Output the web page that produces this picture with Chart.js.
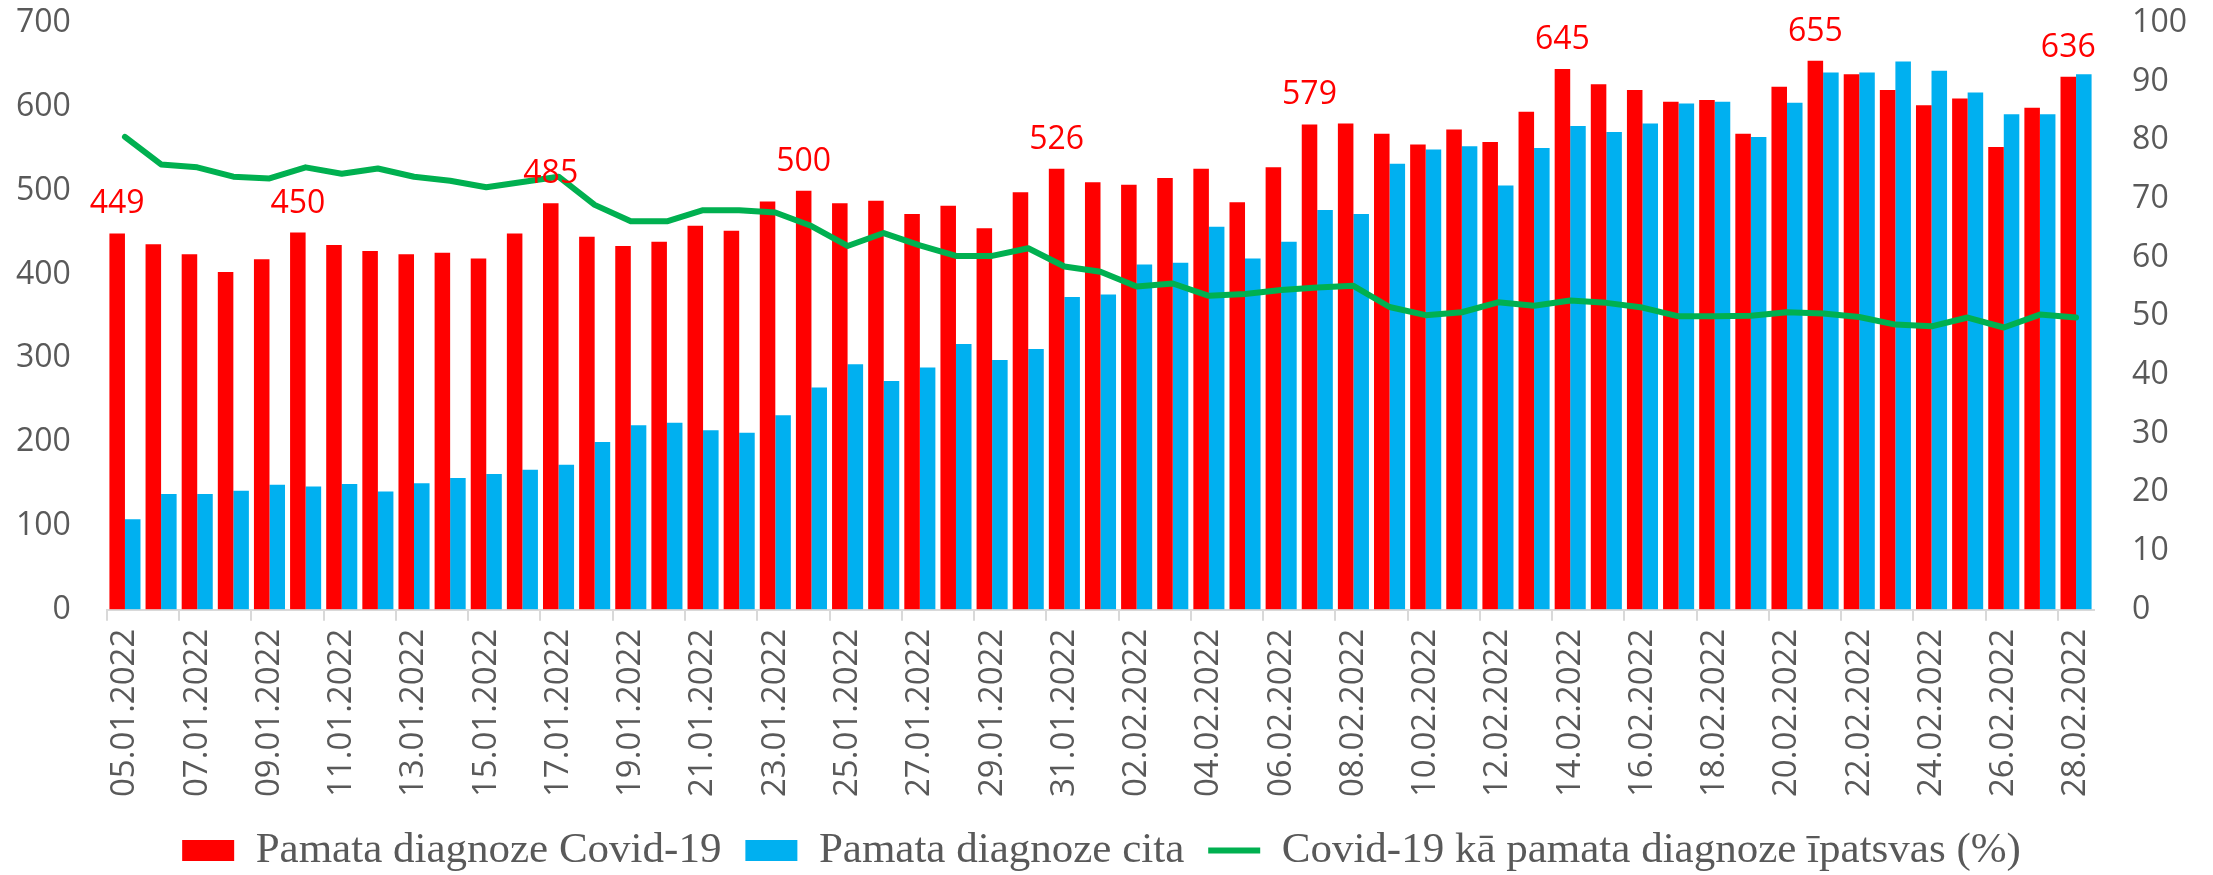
<!DOCTYPE html>
<html>
<head>
<meta charset="utf-8">
<script src="https://cdn.jsdelivr.net/npm/chart.js@4.4.1/dist/chart.umd.min.js"></script>
<style>
  html, body { margin: 0; padding: 0; background: #fff; }
  #wrap { width: 2213px; height: 875px; }
</style>
</head>
<body>
<div id="wrap"><canvas id="chart"></canvas></div>
<script>
const dates = [
  "05.01.2022", "06.01.2022", "07.01.2022", "08.01.2022", "09.01.2022", "10.01.2022", "11.01.2022",
  "12.01.2022", "13.01.2022", "14.01.2022", "15.01.2022", "16.01.2022", "17.01.2022", "18.01.2022",
  "19.01.2022", "20.01.2022", "21.01.2022", "22.01.2022", "23.01.2022", "24.01.2022", "25.01.2022",
  "26.01.2022", "27.01.2022", "28.01.2022", "29.01.2022", "30.01.2022", "31.01.2022",
  "01.02.2022", "02.02.2022", "03.02.2022", "04.02.2022", "05.02.2022", "06.02.2022", "07.02.2022",
  "08.02.2022", "09.02.2022", "10.02.2022", "11.02.2022", "12.02.2022", "13.02.2022", "14.02.2022",
  "15.02.2022", "16.02.2022", "17.02.2022", "18.02.2022", "19.02.2022", "20.02.2022", "21.02.2022",
  "22.02.2022", "23.02.2022", "24.02.2022", "25.02.2022", "26.02.2022", "27.02.2022", "28.02.2022"
];

// Pamata diagnoze Covid-19
const covidMain = [
  449, 436, 424, 403, 418, 450, 435, 428, 424, 426, 419, 449, 485, 445,
  434, 439, 458, 452, 487, 500, 485, 488, 472, 482, 455, 498, 526,
  510, 507, 515, 526, 486, 528, 579, 580, 568, 555, 573, 558, 594, 645,
  627, 620, 606, 608, 568, 624, 655, 639, 620, 602, 610, 552, 599, 636
];

// Pamata diagnoze cita
const otherMain = [
  108, 138, 138, 142, 149, 147, 150, 141, 151, 157, 162, 167, 173, 200,
  220, 223, 214, 211, 232, 265, 293, 273, 289, 317, 298, 311, 373,
  376, 412, 414, 457, 419, 439, 477, 472, 532, 549, 553, 506, 551, 577,
  570, 580, 604, 606, 564, 605, 641, 641, 654, 643, 617, 591, 591, 639
];

// Covid-19 kā pamata diagnoze īpatsvas (%)
const covidShare = [
  80.6, 75.9, 75.4, 73.8, 73.5, 75.4, 74.3, 75.2, 73.8, 73.1, 72.0, 72.9, 73.8, 69.0,
  66.2, 66.2, 68.1, 68.1, 67.7, 65.4, 62.0, 64.2, 62.1, 60.3, 60.3, 61.6, 58.5,
  57.6, 55.1, 55.6, 53.5, 53.8, 54.5, 54.9, 55.2, 51.6, 50.2, 50.7, 52.4, 51.8, 52.7,
  52.3, 51.5, 50.0, 50.0, 50.1, 50.7, 50.5, 49.9, 48.6, 48.3, 49.8, 48.1, 50.3, 49.8
];

// days whose red bar carries a value label
const labeledDays = [0, 5, 12, 19, 26, 33, 40, 47, 54];

const tickFont = { family: "'Open Sans', 'Liberation Sans', sans-serif", size: 32 };
const gray = "#595959";
const clear = "rgba(0,0,0,0)";

const barLabels = {
  id: "barLabels",
  afterDatasetsDraw(chart) {
    const ctx = chart.ctx;
    const meta = chart.getDatasetMeta(0);
    ctx.save();
    ctx.font = "32px 'Open Sans', 'Liberation Sans', sans-serif";
    ctx.fillStyle = "#FF0000";
    ctx.textAlign = "center";
    ctx.textBaseline = "alphabetic";
    labeledDays.forEach(i => {
      const bar = meta.data[i];
      ctx.fillText(String(covidMain[i]), bar.x, bar.y - 20);
    });
    ctx.restore();
  }
};

// y axes: label gap made with invisible ticks so it does not add top padding
const yGrid = { display: true, drawOnChartArea: false, drawTicks: true, color: clear, tickColor: clear };

const ctx = document.getElementById("chart").getContext("2d");

new Chart(ctx, {
  type: "bar",
  data: {
    labels: dates,
    datasets: [
      {
        label: "Pamata diagnoze Covid-19",
        data: covidMain,
        backgroundColor: "#FF0000",
        borderWidth: 0,
        pointStyle: "rect",
        yAxisID: "y",
        order: 1
      },
      {
        label: "Pamata diagnoze cita",
        data: otherMain,
        backgroundColor: "#00B0F0",
        borderWidth: 0,
        pointStyle: "rect",
        yAxisID: "y",
        order: 1
      },
      {
        type: "line",
        label: "Covid-19 kā pamata diagnoze īpatsvas (%)",
        data: covidShare,
        borderColor: "#00B050",
        backgroundColor: "#00B050",
        borderWidth: 6,
        borderCapStyle: "round",
        borderJoinStyle: "round",
        pointRadius: 0,
        pointStyle: "line",
        tension: 0,
        yAxisID: "y1",
        order: 0
      }
    ]
  },
  options: {
    responsive: true,
    maintainAspectRatio: false,
    devicePixelRatio: 1,
    animation: false,
    layout: { padding: { left: 16, right: 26, top: 23, bottom: -7 } },
    datasets: {
      bar: { categoryPercentage: 0.86, barPercentage: 1.0 }
    },
    scales: {
      x: {
        grid: {
          display: true,
          drawOnChartArea: false,
          drawTicks: true,
          tickLength: 11,
          lineWidth: 2,
          color: c => (c.index % 2 === 0 ? "#D9D9D9" : clear),
          tickColor: c => (c.index % 2 === 0 ? "#D9D9D9" : clear)
        },
        border: { display: true, color: "#D9D9D9", width: 2 },
        ticks: {
          autoSkip: false,
          minRotation: 90,
          maxRotation: 90,
          padding: 8,
          color: gray,
          font: { family: "'Open Sans', 'Liberation Sans', sans-serif", size: 33 },
          callback: (v, i) => (i % 2 === 0 ? dates[i] : "")
        }
      },
      y: {
        position: "left",
        min: 0,
        max: 700,
        grid: Object.assign({ tickLength: 36 }, yGrid),
        border: { display: false },
        ticks: { stepSize: 100, padding: 0, color: gray, font: tickFont }
      },
      y1: {
        position: "right",
        min: 0,
        max: 100,
        grid: Object.assign({ tickLength: 38 }, yGrid),
        border: { display: false },
        ticks: { stepSize: 10, padding: 0, color: gray, font: tickFont }
      }
    },
    plugins: {
      legend: {
        position: "bottom",
        labels: {
          usePointStyle: true,
          pointStyleWidth: 52,
          boxHeight: 21,
          padding: 24,
          color: gray,
          font: { family: "'Liberation Serif', 'Times New Roman', serif", size: 43 },
          sort: (a, b) => a.datasetIndex - b.datasetIndex
        }
      },
      tooltip: { enabled: false }
    }
  },
  plugins: [barLabels]
});
</script>
</body>
</html>
